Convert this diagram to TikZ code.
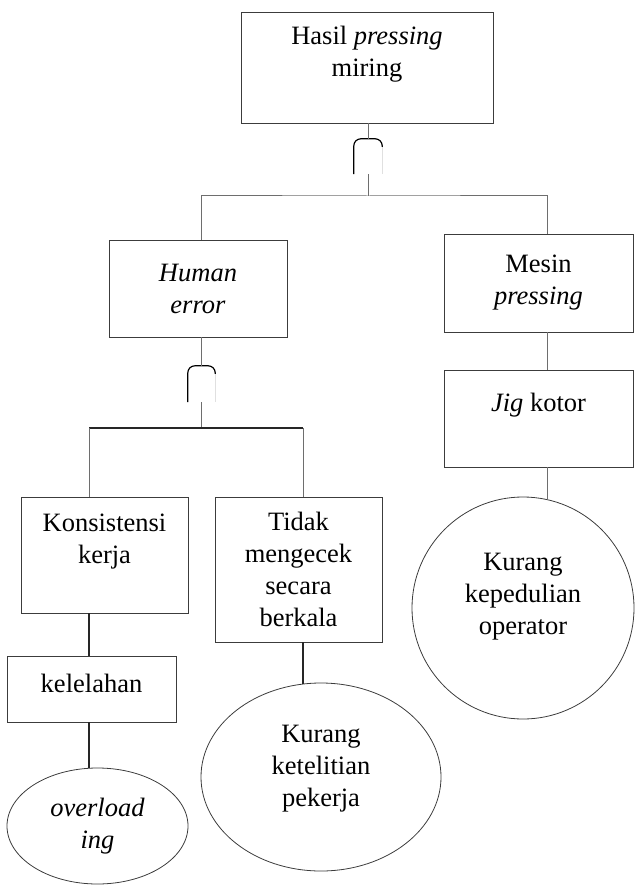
\documentclass[tikz,border=0pt]{standalone}
\usepackage{fontspec}
\setmainfont{Liberation Serif}
\usepackage{tikz}
\usetikzlibrary{shapes.geometric, calc}
\definecolor{cLine}{RGB}{110,110,110}
\definecolor{cEdge}{RGB}{60,60,60}
\tikzset{
  basebox/.style={rectangle, draw=cEdge, line width=0.9pt, align=center,
                  inner sep=0pt, font=\fontsize{26.5}{32}\selectfont},
  eventbox/.style={basebox, minimum width=#1},
  basicnode/.style={ellipse, draw=cEdge, line width=0.8pt, align=center,
                    inner sep=0pt, font=\fontsize{26.5}{32}\selectfont},
  gatenode/.style={rectangle, inner sep=0pt, minimum width=28pt,
                   minimum height=35pt},
  gateline/.style={draw=black, line width=1.2pt, rounded corners=7pt},
  conn/.style={draw=cLine, line width=1pt},
  barline/.style={draw=black!85, line width=1.4pt}
}
\begin{document}
\begin{tikzpicture}[x=1pt, y=-1pt]
  \useasboundingbox (0,0) rectangle (635,885);

  % Top event
  \node[eventbox=252pt, minimum height=111pt] (top) at (367,67.5)
      {Hasil \textit{pressing}\\miring\\~};
  \node[gatenode] (g1) at (368,156.5) {};

  % Second level
  \node[eventbox=178pt, minimum height=97pt] (human) at (198,288.5)
      {\textit{Human}\\\textit{error}};
  \node[eventbox=189pt, minimum height=98pt] (mesin) at (538.5,283)
      {Mesin\\\textit{pressing}};
  \node[eventbox=189pt, minimum height=97pt] (jig) at (538.5,418.5)
      {\textit{Jig} kotor\\~};
  \node[gatenode, minimum width=27pt, minimum height=36pt] (g2) at (201.5,384) {};

  % Third level
  \node[eventbox=167pt, minimum height=116pt] (konsisten) at (104.5,555)
      {Konsistensi\\kerja\\~};
  \node[eventbox=167pt, minimum height=145pt] (tidak) at (298.5,569.5)
      {Tidak\\mengecek\\secara\\berkala};
  \node[eventbox=169pt, minimum height=66pt] (lelah) at (91.5,689)
      {kelelahan\\[-20pt]~};

  % Basic events
  \node[basicnode, minimum width=181pt, minimum height=116pt] (overload) at (97.5,826)
      {\textit{overload}\\\textit{ing}};
  \node[basicnode, minimum width=240pt, minimum height=188pt] (teliti) at (321,777)
      {Kurang\\ketelitian\\pekerja\\[-10pt]~};
  \node[circle, draw=cEdge, line width=0.8pt, align=center, inner sep=0pt,
        minimum size=222pt, font=\fontsize{26.5}{32}\selectfont] (peduli) at (523,608)
      {Kurang\\kepedulian\\operator\\[-4pt]~};

  % Junctions
  \coordinate (bar1) at (368,196);
  \coordinate (bar2) at (201.5,428);
  \coordinate (rcol) at (547,0);
  \coordinate (lcol) at (89,0);
  \coordinate (mcol) at (303,0);

  % Gates
  \draw[gateline] (g1.south west) |- (g1.north east) -- ($(g1.north east)+(0,8)$);
  \draw[black!12, line width=0.8pt] ($(g1.north east)+(0,8)$) -- (g1.south east);
  \draw[gateline] (g2.south west) |- (g2.north east) -- ($(g2.north east)+(0,8)$);
  \draw[black!12, line width=0.8pt] ($(g2.north east)+(0,8)$) -- (g2.south east);

  % Connectors
  \draw[conn] (top.south -| g1) -- (g1.north);
  \draw[conn] (g1.south) -- (bar1);
  \draw[conn] (human.north -| g2) |- (bar1) -| (mesin.north -| rcol);
  \draw[conn] (mesin.south -| rcol) -- (jig.north -| rcol);
  \draw[conn] (jig.south -| rcol) -- ($(peduli.north)+(24,2.6)$);
  \draw[conn] (human.south -| g2) -- (g2.north);
  \draw[conn] (g2.south) -- (bar2);
  \draw[barline] (bar2) -- (bar2 -| lcol);
  \draw[barline] (bar2) -- (bar2 -| mcol);
  \draw[conn] (bar2 -| lcol) -- (konsisten.north -| lcol);
  \draw[conn] (bar2 -| mcol) -- (tidak.north -| mcol);
  \draw[barline] (konsisten.south -| lcol) -- (lelah.north -| lcol);
  \draw[barline] (lelah.south -| lcol) -- ($(overload.north)+(-8.5,0.6)$);
  \draw[barline] (tidak.south -| mcol) -- ($(teliti.north)+(-18,1.1)$);

\end{tikzpicture}
\end{document}
